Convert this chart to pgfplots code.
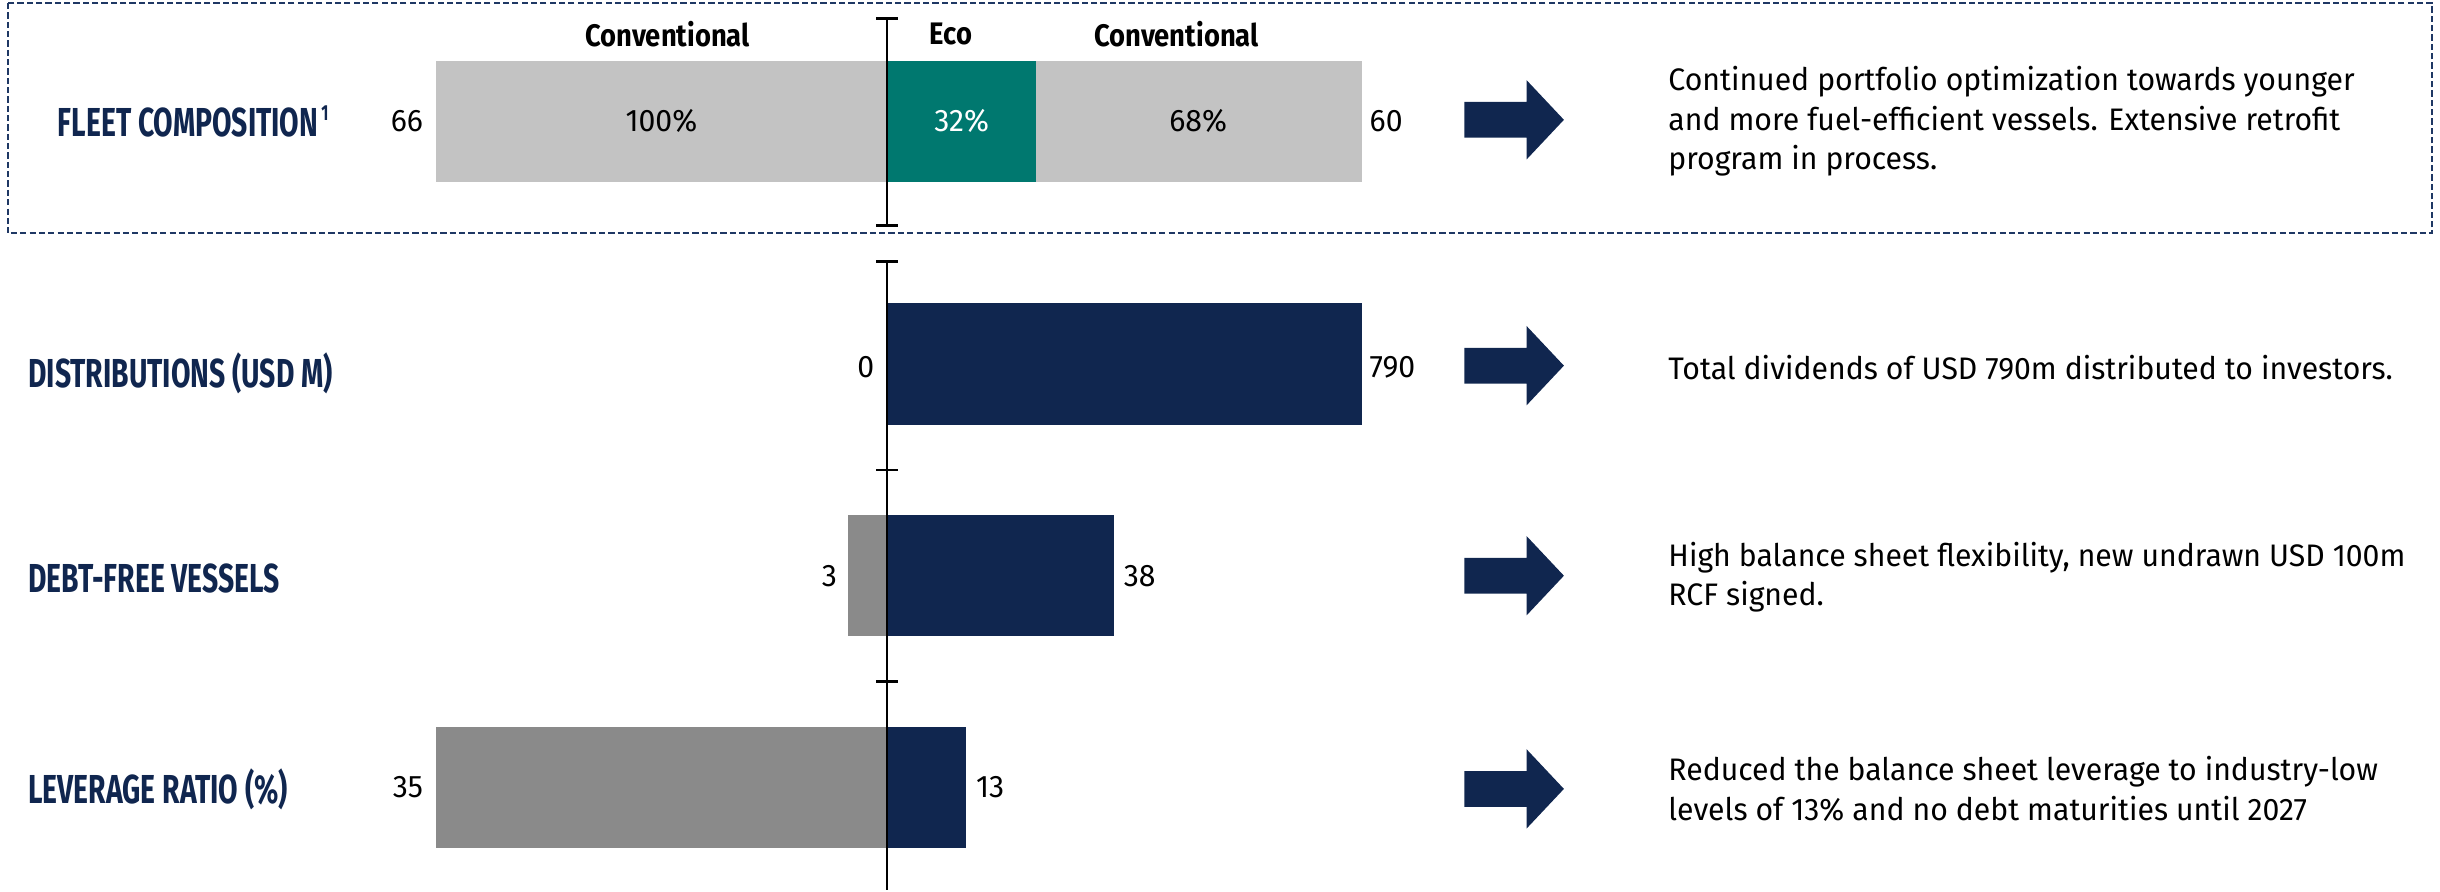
\documentclass[border=0pt]{standalone}
\usepackage{pgfplots}
\pgfplotsset{compat=1.18}
\usepackage{fontspec}
\setmainfont{Fira Sans}[FakeStretch=0.97]
\newfontfamily\labfont{Fira Sans}[FakeStretch=0.70]
\newfontfamily\hdfont{Fira Sans}[FakeStretch=0.88]
\definecolor{navy}{HTML}{10264F}
\definecolor{teal}{HTML}{00786F}
\definecolor{lgray}{HTML}{C3C3C3}
\definecolor{dgray}{HTML}{8A8A8A}
\definecolor{bordernavy}{HTML}{1F3864}
\newcommand{\bodyfont}{\fontsize{20}{25.5}\selectfont}
\newcommand{\numfont}{\fontsize{20}{24}\selectfont}
\newcommand{\rowfont}{\labfont\bfseries\fontsize{26}{30}\selectfont\color{navy}}
\newcommand{\headfont}{\hdfont\bfseries\fontsize{20}{22}\selectfont}
\newcommand{\arrowat}[1]{%
  \fill[navy] (axis cs:371,#1-11.5) -- (axis cs:411,#1-11.5) -- (axis cs:411,#1-25.5)
   -- (axis cs:435,#1) -- (axis cs:411,#1+25.5) -- (axis cs:411,#1+11.5)
   -- (axis cs:371,#1+11.5) -- cycle;}
\begin{document}
\begin{tikzpicture}
\begin{axis}[
  width=1568pt, height=572pt, scale only axis,
  xmin=-570, xmax=998, ymin=0, ymax=572, y dir=reverse,
  hide axis, clip=false,
]
\path (axis cs:-570,0) rectangle (axis cs:998,572);
% Fleet composition (bar lengths in drawing units)
\addplot[xbar, bar shift=0pt, bar width=78, fill=lgray, draw=none] coordinates {(305,78)};
\addplot[xbar, bar shift=0pt, bar width=78, fill=teal, draw=none] coordinates {(96,78)};
\addplot[xbar, bar shift=0pt, bar width=78, fill=lgray, draw=none] coordinates {(-290,78)};
% Distributions
\addplot[xbar, bar shift=0pt, bar width=78, fill=navy, draw=none] coordinates {(305,234)};
% Debt-free vessels
\addplot[xbar, bar shift=0pt, bar width=78, fill=dgray, draw=none] coordinates {(-25,370)};
\addplot[xbar, bar shift=0pt, bar width=78, fill=navy, draw=none] coordinates {(146,370)};
% Leverage ratio
\addplot[xbar, bar shift=0pt, bar width=78, fill=dgray, draw=none] coordinates {(-290,506)};
\addplot[xbar, bar shift=0pt, bar width=78, fill=navy, draw=none] coordinates {(51,506)};

% central axis
\draw[black, line width=1.3pt] (axis cs:0,12) -- (axis cs:0,145);
\draw[black, line width=1.6pt] (axis cs:-7,12) -- (axis cs:7,12);
\draw[black, line width=1.6pt] (axis cs:-7,145) -- (axis cs:7,145);
\draw[black, line width=1.3pt] (axis cs:0,168) -- (axis cs:0,572);
\draw[black, line width=1.6pt] (axis cs:-7,168) -- (axis cs:7,168);
\draw[black, line width=1.6pt] (axis cs:-7,302) -- (axis cs:7,302);
\draw[black, line width=1.6pt] (axis cs:-7,438) -- (axis cs:7,438);

% dashed frame
\draw[bordernavy, line width=1.3pt, dash pattern=on 4pt off 2pt] (axis cs:-565,2) rectangle (axis cs:993,150);

% headers
\node[font=\headfont, anchor=center] at (axis cs:-141,22) {Conventional};
\node[font=\headfont, anchor=center] at (axis cs:41,22) {Eco};
\node[font=\headfont, anchor=center] at (axis cs:186,22) {Conventional};

% row labels
\node[anchor=west, inner sep=0pt] at (axis cs:-533,78) {\rowfont FLEET COMPOSITION\hspace{2pt}\raisebox{0.4em}{\fontsize{14}{14}\selectfont 1}};
\node[anchor=west, inner sep=0pt] at (axis cs:-552,240) {\rowfont DISTRIBUTIONS (USD M)};
\node[anchor=west, inner sep=0pt] at (axis cs:-552,372) {\rowfont DEBT-FREE VESSELS};
\node[anchor=west, inner sep=0pt] at (axis cs:-552,507) {\rowfont LEVERAGE RATIO (\%)};

% value labels
\node[anchor=east, inner sep=0pt, font=\numfont] at (axis cs:-298,78) {66};
\node[anchor=center, font=\numfont] at (axis cs:-145,78) {100\%};
\node[anchor=center, font=\numfont, text=white] at (axis cs:48,78) {32\%};
\node[anchor=center, font=\numfont] at (axis cs:200,78) {68\%};
\node[anchor=west, inner sep=0pt, font=\numfont] at (axis cs:310,78) {60};
\node[anchor=east, inner sep=0pt, font=\numfont] at (axis cs:-8,236) {0};
\node[anchor=west, inner sep=0pt, font=\numfont] at (axis cs:310,236) {790};
\node[anchor=east, inner sep=0pt, font=\numfont] at (axis cs:-32,370) {3};
\node[anchor=west, inner sep=0pt, font=\numfont] at (axis cs:152,370) {38};
\node[anchor=east, inner sep=0pt, font=\numfont] at (axis cs:-298,506) {35};
\node[anchor=west, inner sep=0pt, font=\numfont] at (axis cs:57,506) {13};

% arrows
\arrowat{77}
\arrowat{235}
\arrowat{370}
\arrowat{507}

% comments
\node[anchor=west, inner sep=0pt, align=left, font=\bodyfont] at (axis cs:502,78)
  {Continued portfolio optimization towards younger\\and more fuel-efficient vessels. Extensive retrofit\\program in process.};
\node[anchor=west, inner sep=0pt, align=left, font=\bodyfont] at (axis cs:502,236)
  {Total dividends of USD 790m distributed to investors.};
\node[anchor=west, inner sep=0pt, align=left, font=\bodyfont] at (axis cs:502,371)
  {High balance sheet flexibility, new undrawn USD 100m\\RCF signed.};
\node[anchor=west, inner sep=0pt, align=left, font=\bodyfont] at (axis cs:502,507)
  {Reduced the balance sheet leverage to industry-low\\levels of 13\% and no debt maturities until 2027};
\end{axis}
\end{tikzpicture}
\end{document}
